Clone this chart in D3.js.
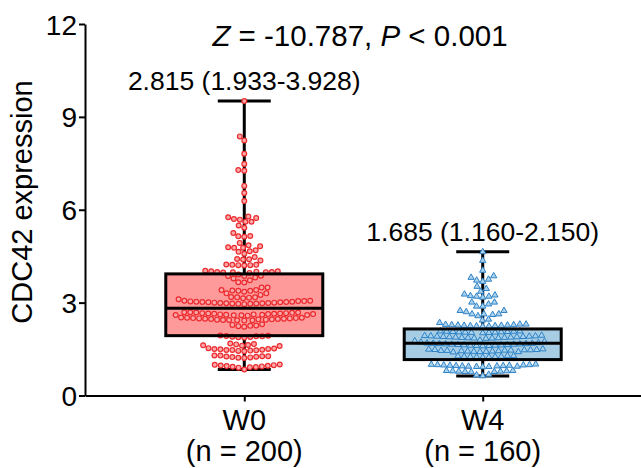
<!DOCTYPE html>
<html>
<head>
<meta charset="utf-8">
<script src="https://cdn.jsdelivr.net/npm/d3@7"></script>
<style>
  body { margin: 0; background: #fff; }
  text { font-family: "Liberation Sans", Arial, sans-serif; fill: #000; }
</style>
</head>
<body>
<div id="chart"></div>
<script>
// Groups and labels
const groups = ["W0", "W4"];
const groupN = ["(n = 200)", "(n = 160)"];
const statLabels = ["2.815 (1.933-3.928)", "1.685 (1.160-2.150)"];
const medians = [2.815, 1.685];
const q1s = [1.933, 1.160];
const q3s = [3.928, 2.150];
const yTicks = [0, 3, 6, 9, 12];

const w0Values = [
  9.51, 8.37, 8.24, 7.81, 7.48, 7.28, 7.26, 6.77, 6.54, 6.28,
  5.78, 5.73, 5.68, 5.70, 5.76, 5.61, 5.61,
  5.49, 5.42, 5.25, 5.15, 5.14, 5.13, 4.93,
  4.82, 4.77, 4.69, 4.85, 4.66, 4.77, 4.79, 4.64, 4.58,
  4.47, 4.36, 4.41, 4.40, 4.39,
  4.22, 4.21, 4.20, 4.21, 4.22, 4.23,
  4.03, 4.01, 4.00, 3.99, 3.98, 3.97, 3.96, 3.98, 3.99, 4.01,
  3.86, 3.86, 3.87, 3.91, 3.81,
  3.72, 3.65, 3.66, 3.78,
  3.49, 3.41, 3.38, 3.39, 3.35, 3.30, 3.38, 3.41, 3.49,
  3.25, 3.17, 3.18, 3.11, 3.14, 3.17, 3.16, 3.30,
  3.06, 3.05, 3.04, 3.03, 3.02, 3.01, 3.00, 2.99, 2.98, 2.97, 2.96,
  2.95, 2.96, 2.97, 2.98, 2.99, 3.00, 3.01, 3.02, 3.03, 3.05, 3.06,
  2.69, 2.68, 2.67, 2.66, 2.65, 2.64, 2.63, 2.62, 2.61, 2.60, 2.59,
  2.58, 2.59, 2.60, 2.61, 2.62, 2.63, 2.64, 2.65, 2.66, 2.68, 2.69,
  2.52, 2.51, 2.50, 2.49, 2.48, 2.47, 2.46, 2.45, 2.44, 2.43,
  2.42, 2.43, 2.44, 2.45, 2.46, 2.47, 2.48, 2.49, 2.50, 2.51,
  2.30, 2.28, 2.26, 2.24, 2.22, 2.25,
  1.94, 1.92, 1.91, 1.90, 1.88, 1.87, 1.89, 1.91, 1.93,
  1.68, 1.65, 1.63, 1.61, 1.60, 1.62, 1.66,
  1.52, 1.50, 1.49, 1.47, 1.46, 1.44, 1.43, 1.45, 1.47, 1.48, 1.50, 1.53,
  1.29, 1.27, 1.26, 1.24, 1.22, 1.21, 1.23, 1.25, 1.27, 1.29,
  1.00, 0.98, 0.96, 0.94, 0.92, 0.90, 0.91, 0.93, 0.95, 0.97, 0.99,
  0.84
];

// W4 values
const w4Values = [
  4.64, 4.36, 4.04,
  3.81, 3.72, 3.75, 3.86,
  3.68, 3.52, 3.45,
  3.24, 3.20, 3.17, 3.36, 3.20, 3.22, 3.27,
  3.01, 2.95, 2.88, 2.88, 3.01,
  2.74, 2.63, 2.61, 2.63, 2.63, 2.70, 2.74,
  2.46, 2.43, 2.57, 2.35,
  2.30, 2.29, 2.28, 2.27, 2.26, 2.25, 2.24, 2.23, 2.24, 2.25, 2.26, 2.27, 2.28, 2.30,
  2.08, 2.07, 2.06, 2.05, 2.04, 2.03, 2.02, 2.03, 2.04, 2.05, 2.06, 2.07, 2.08,
  1.92, 1.91, 1.90, 1.89, 1.88, 1.87, 1.86, 1.85, 1.84, 1.85,
  1.86, 1.87, 1.88, 1.89, 1.90, 1.91, 1.92, 1.93, 1.94,
  1.78, 1.76, 1.74, 1.72,
  1.68, 1.67, 1.66, 1.65, 1.64, 1.63, 1.62, 1.61, 1.60, 1.61,
  1.62, 1.63, 1.64, 1.65, 1.66, 1.67, 1.68, 1.69, 1.70,
  1.48, 1.47, 1.46, 1.45, 1.44, 1.43, 1.42, 1.41, 1.40, 1.41,
  1.42, 1.43, 1.44, 1.45, 1.46, 1.47, 1.48, 1.49, 1.50,
  1.28, 1.27, 1.26, 1.25, 1.24, 1.23, 1.24, 1.25, 1.26, 1.28,
  1.00, 0.99, 0.98, 0.97, 0.96, 0.95, 0.94, 0.93, 0.92, 0.93,
  0.94, 0.95, 0.96, 0.97, 0.98, 0.99, 1.01,
  0.80, 0.79, 0.78, 0.77, 0.76, 0.77, 0.78, 0.79, 0.80,
  0.63, 0.66, 0.68
];

const groupValues = [w0Values, w4Values];
const boxFill = ["#ff9a9a", "#a6cde3"];
const markStroke = ["#ec2a2e", "#2f82c6"];
const markFill = ["#f9a9a9", "#a9d2ee"];

const width = 641, height = 468;
const svg = d3.select("#chart").append("svg")
  .attr("width", width)
  .attr("height", height);

// Scales
const x = d3.scalePoint().domain(groups).range([85, 642]).padding(0.668);
const y = d3.scaleLinear().domain([0, 12]).range([395.5, 24]);

const boxHalf = 78.5;
const capHalf = 26.5;

// Simple beeswarm: place each point as close to the centre as it can go
function swarm(values, cx, diam) {
  const sorted = values.slice().sort((a, b) => a - b);
  const placed = [];
  sorted.forEach(v => {
    const py = y(v);
    const blocks = [];
    placed.forEach(p => {
      const dy = Math.abs(p.y - py);
      if (dy < diam) {
        const dx = Math.sqrt(diam * diam - dy * dy);
        blocks.push([p.x - dx, p.x + dx]);
      }
    });
    const cands = [0];
    blocks.forEach(b => cands.push(b[0], b[1]));
    cands.sort((a, b) => Math.abs(a) - Math.abs(b));
    const px = cands.find(c => blocks.every(b => c <= b[0] + 1e-6 || c >= b[1] - 1e-6));
    placed.push({ x: px, y: py });
  });
  return placed.map(p => ({ cx: cx + p.x, cy: p.y }));
}

// Axes
svg.append("g")
  .attr("transform", "translate(85,0)")
  .call(d3.axisLeft(y).tickValues(yTicks).tickSize(6).tickPadding(2).tickSizeOuter(0))
  .call(g => g.selectAll("path, line").attr("stroke", "#000").attr("stroke-width", 2))
  .call(g => g.selectAll("text").style("font-size", "28px").attr("dy", "0.36em"));

svg.append("g")
  .attr("transform", `translate(0,${y(0)})`)
  .call(d3.axisBottom(x).tickSize(6).tickSizeOuter(0).tickFormat(""))
  .call(g => g.selectAll("path, line").attr("stroke", "#000").attr("stroke-width", 2));

// Group labels
svg.selectAll(".grp")
  .data(groups)
  .enter().append("text")
  .attr("x", d => x(d))
  .attr("y", 430)
  .attr("text-anchor", "middle")
  .style("font-size", "29px")
  .text(d => d);

svg.selectAll(".grpn")
  .data(groupN)
  .enter().append("text")
  .attr("x", (d, i) => x(groups[i]))
  .attr("y", 461)
  .attr("text-anchor", "middle")
  .style("font-size", "29px")
  .text(d => d);

// Y axis title
svg.append("text")
  .attr("transform", "translate(32,202) rotate(-90)")
  .attr("text-anchor", "middle")
  .style("font-size", "29px")
  .text("CDC42 expression");

// Test result title
const title = svg.append("text")
  .attr("x", 360)
  .attr("y", 46)
  .attr("text-anchor", "middle")
  .style("font-size", "29.5px");
title.append("tspan").style("font-style", "italic").text("Z");
title.append("tspan").text(" = -10.787, ");
title.append("tspan").style("font-style", "italic").text("P");
title.append("tspan").text(" < 0.001");

// Boxes, whiskers and points per group
groups.forEach((g, i) => {
  const cx = x(g);
  const vals = groupValues[i];
  const vMin = d3.min(vals), vMax = d3.max(vals);
  const layer = svg.append("g");

  // box fill
  layer.append("rect")
    .attr("x", cx - boxHalf)
    .attr("y", y(q3s[i]))
    .attr("width", boxHalf * 2)
    .attr("height", y(q1s[i]) - y(q3s[i]))
    .attr("fill", boxFill[i]);

  // whiskers and caps
  [[q3s[i], vMax], [q1s[i], vMin]].forEach(([a, b]) => {
    layer.append("line")
      .attr("x1", cx).attr("x2", cx)
      .attr("y1", y(a)).attr("y2", y(b))
      .attr("stroke", "#000").attr("stroke-width", 3);
    layer.append("line")
      .attr("x1", cx - capHalf).attr("x2", cx + capHalf)
      .attr("y1", y(b)).attr("y2", y(b))
      .attr("stroke", "#000").attr("stroke-width", 3);
  });

  // points
  const pts = swarm(vals, cx, i === 0 ? 6 : 6.2);
  if (i === 0) {
    layer.selectAll(".pt")
      .data(pts)
      .enter().append("circle")
      .attr("cx", d => d.cx)
      .attr("cy", d => d.cy)
      .attr("r", 2.4)
      .attr("fill", markFill[i])
      .attr("stroke", markStroke[i])
      .attr("stroke-width", 1.2);
  } else {
    layer.selectAll(".pt")
      .data(pts)
      .enter().append("path")
      .attr("transform", d => `translate(${d.cx},${d.cy})`)
      .attr("d", d3.symbol().type(d3.symbolTriangle).size(17))
      .attr("fill", markFill[i])
      .attr("stroke", markStroke[i])
      .attr("stroke-width", 1);
  }

  // box outline and median
  layer.append("rect")
    .attr("x", cx - boxHalf)
    .attr("y", y(q3s[i]))
    .attr("width", boxHalf * 2)
    .attr("height", y(q1s[i]) - y(q3s[i]))
    .attr("fill", "none")
    .attr("stroke", "#000")
    .attr("stroke-width", 3);
  layer.append("line")
    .attr("x1", cx - boxHalf).attr("x2", cx + boxHalf)
    .attr("y1", y(medians[i])).attr("y2", y(medians[i]))
    .attr("stroke", "#000").attr("stroke-width", 3);

  // summary label above the top whisker
  layer.append("text")
    .attr("x", cx)
    .attr("y", y(vMax) - 11)
    .attr("text-anchor", "middle")
    .style("font-size", "26.5px")
    .text(statLabels[i]);
});
</script>
</body>
</html>
